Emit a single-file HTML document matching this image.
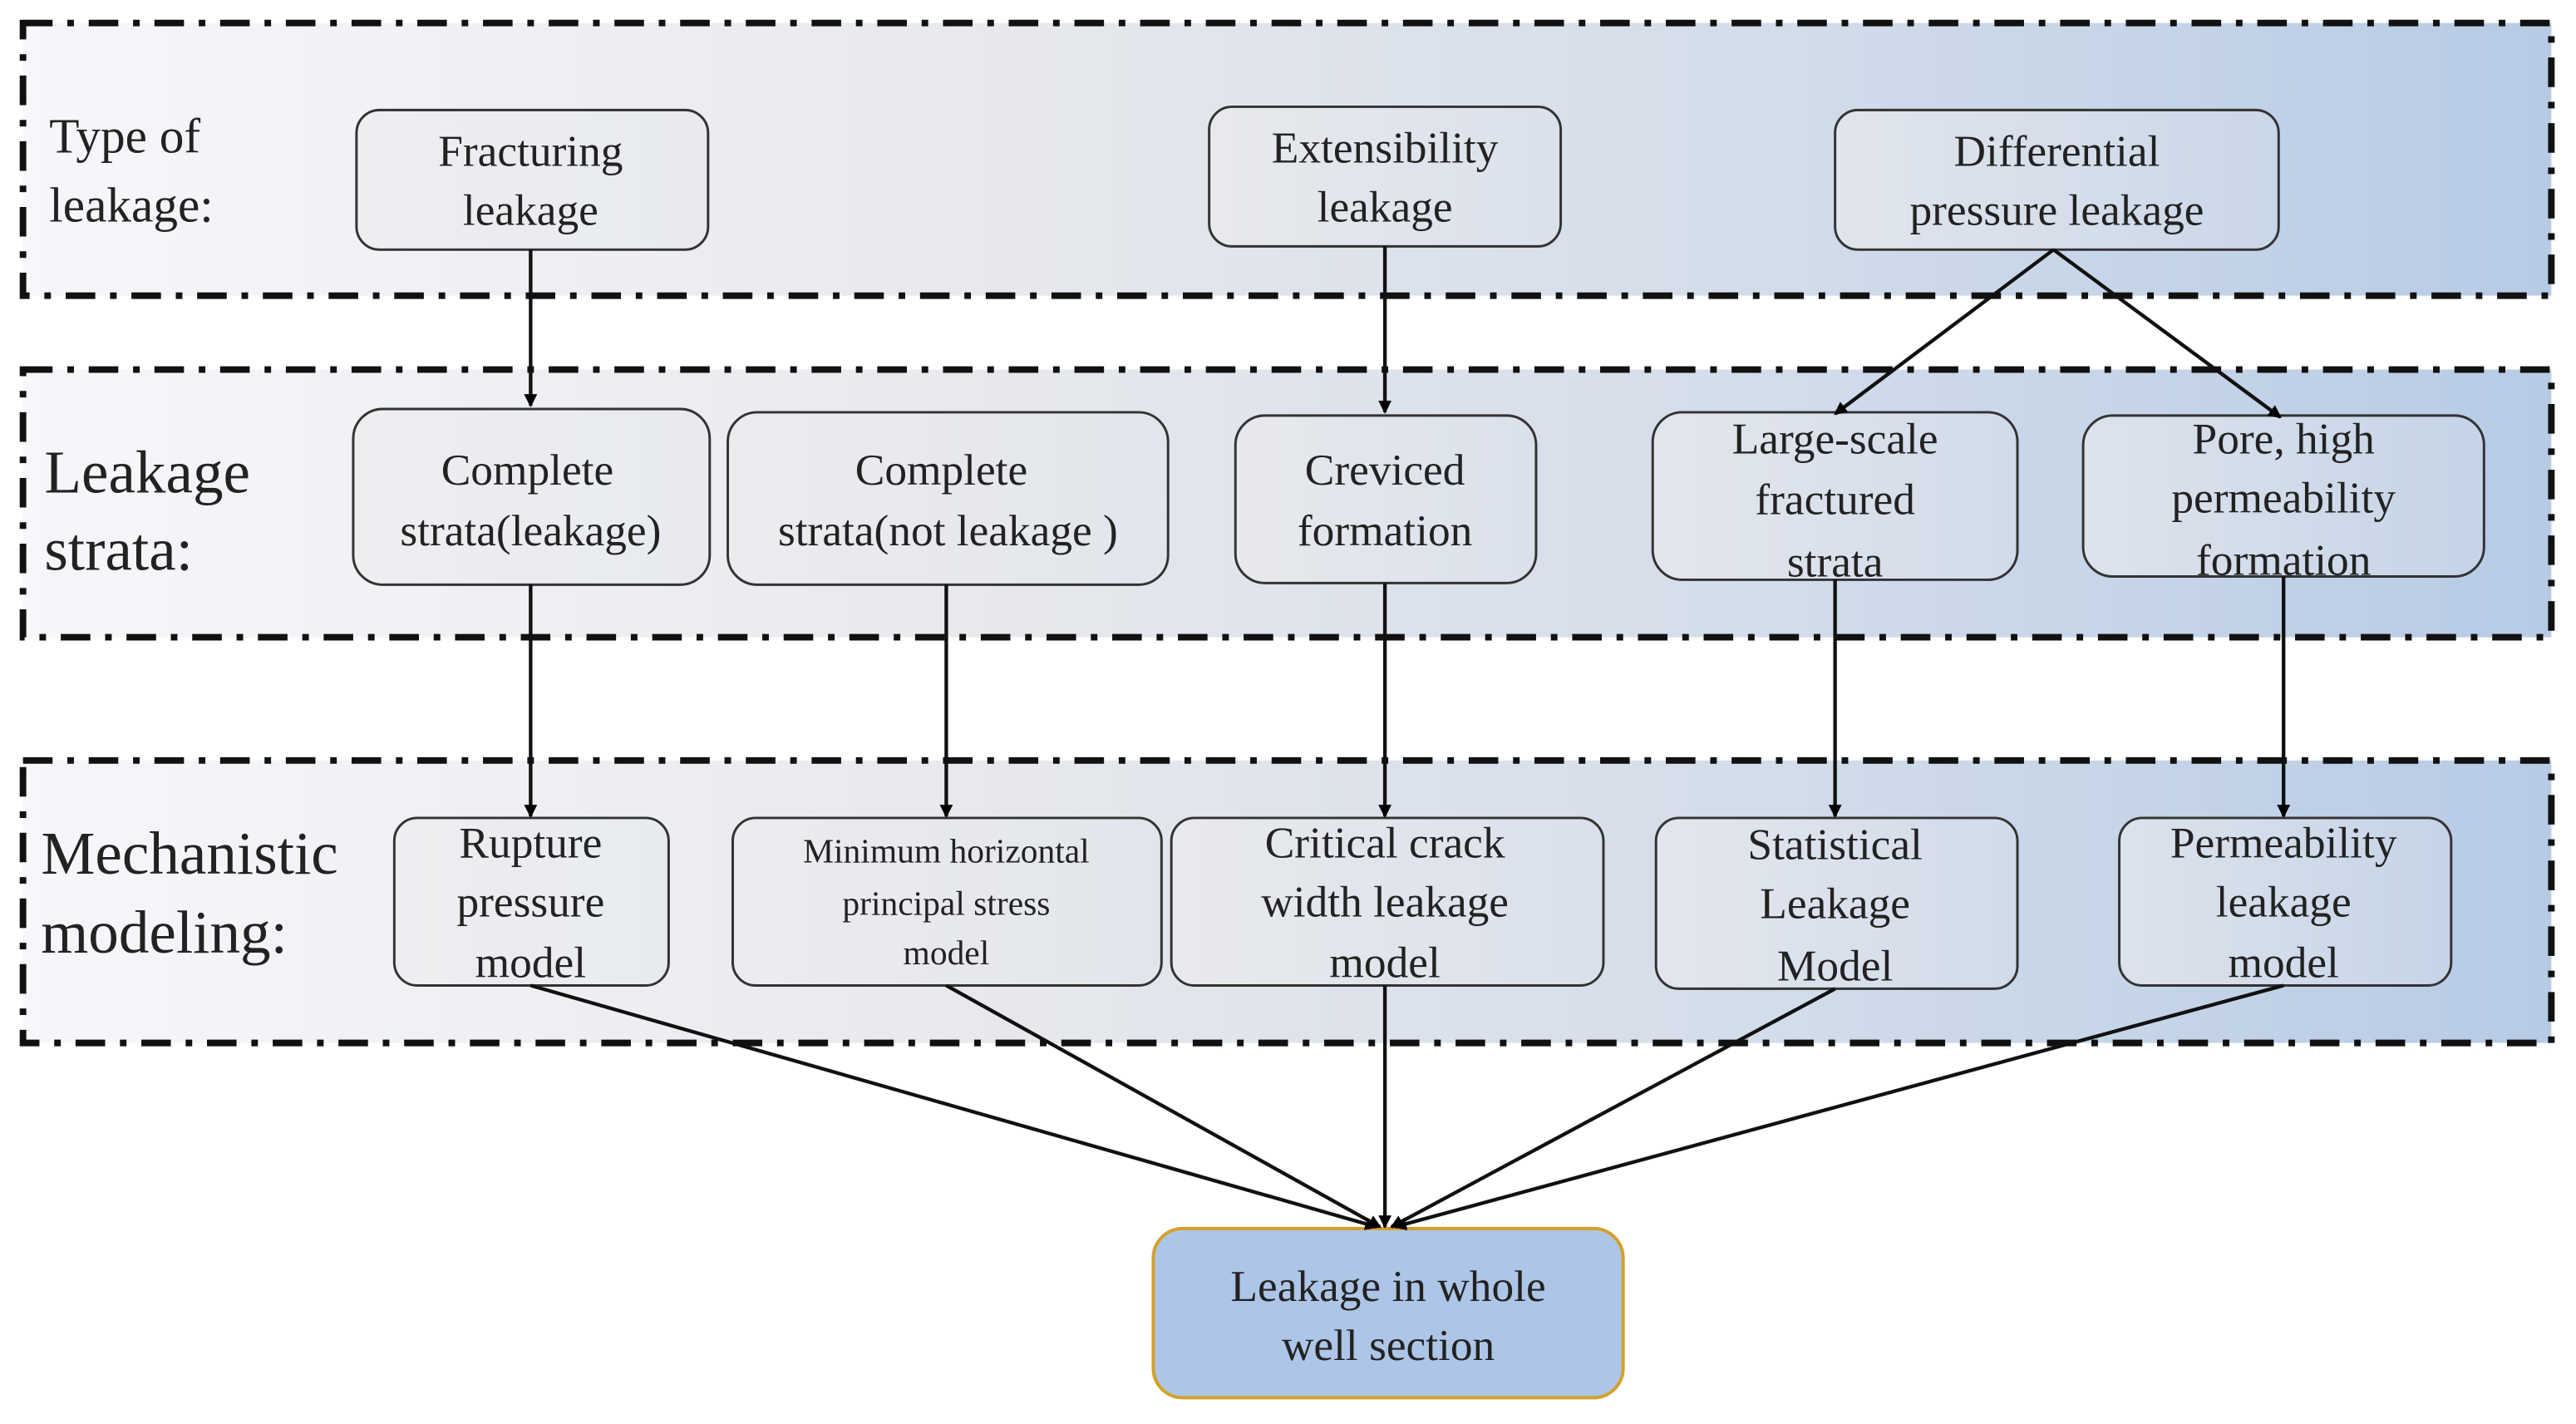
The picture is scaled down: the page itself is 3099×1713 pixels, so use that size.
<!DOCTYPE html>
<html><head><meta charset="utf-8"><style>
html,body{margin:0;padding:0;background:#fff;}
svg{display:block;}
svg text{font-family:"Liberation Serif","Times New Roman","DejaVu Serif",serif;fill:#222;}
</style></head><body>
<svg width="3099" height="1713" viewBox="0 0 1568 867" preserveAspectRatio="none" xmlns="http://www.w3.org/2000/svg" font-family="Liberation Serif, DejaVu Serif, serif">
<defs>
<linearGradient id="g" x1="0" x2="1" y1="0" y2="0">
<stop offset="0" stop-color="#f6f7fa"/>
<stop offset="0.4" stop-color="#e6e8ec"/>
<stop offset="0.7" stop-color="#d2dcea"/>
<stop offset="1" stop-color="#b7cbe5"/>
</linearGradient>
<linearGradient id="bx" x1="0" x2="1" y1="0" y2="0">
<stop offset="0" stop-color="#ececee" stop-opacity="0.6"/>
<stop offset="1" stop-color="#e0e4ec" stop-opacity="0.3"/>
</linearGradient>
<marker id="a" markerWidth="8" markerHeight="8" refX="7" refY="4" orient="auto" markerUnits="userSpaceOnUse">
<path d="M0,0 L8,4 L0,8 z" fill="#000"/>
</marker>
</defs>
<g stroke="#111" stroke-width="4" stroke-dasharray="18 9 4 9">
<rect x="14" y="14" width="1539" height="166" fill="url(#g)"/>
<rect x="14" y="225" width="1539" height="163" fill="url(#g)"/>
<rect x="14" y="463" width="1539" height="172" fill="url(#g)"/>
</g>
<g font-size="30">
<text x="30" y="93">Type  of</text>
<text x="30" y="135">leakage:</text>
</g>
<g font-size="37">
<text x="27" y="300">Leakage</text>
<text x="27" y="347">strata:</text>
<text x="25" y="532">Mechanistic</text>
<text x="25" y="580">modeling:</text>
</g>
<g fill="url(#bx)" stroke="#333" stroke-width="1.5">
<rect x="217" y="67" width="214" height="85" rx="14"/>
<rect x="736" y="65" width="214" height="85" rx="14"/>
<rect x="1117" y="67" width="270" height="85" rx="14"/>
<rect x="215" y="249" width="217" height="107" rx="18"/>
<rect x="443" y="251" width="268" height="105" rx="18"/>
<rect x="752" y="253" width="183" height="102" rx="18"/>
<rect x="1006" y="251" width="222" height="102" rx="18"/>
<rect x="1268" y="253" width="244" height="98" rx="18"/>
<rect x="240" y="498" width="167" height="102" rx="14"/>
<rect x="446" y="498" width="261" height="102" rx="14"/>
<rect x="713" y="498" width="263" height="102" rx="14"/>
<rect x="1008" y="498" width="220" height="104" rx="14"/>
<rect x="1290" y="498" width="202" height="102" rx="14"/>
</g>
<rect x="702" y="748" width="286" height="103" rx="18" fill="#adc6e7" stroke="#d4a02a" stroke-width="2"/>
<g font-size="27" text-anchor="middle">
<text x="323" y="101">Fracturing</text><text x="323" y="137">leakage</text>
<text x="843" y="99">Extensibility</text><text x="843" y="135">leakage</text>
<text x="1252" y="101">Differential</text><text x="1252" y="137">pressure leakage</text>
<text x="321" y="295">Complete</text><text x="323" y="332">strata(leakage)</text>
<text x="573" y="295">Complete</text><text x="577" y="332">strata(not leakage )</text>
<text x="843" y="295">Creviced</text><text x="843" y="332">formation</text>
<text x="1117" y="276">Large-scale</text><text x="1117" y="313">fractured</text><text x="1117" y="351">strata</text>
<text x="1390" y="276">Pore, high</text><text x="1390" y="312">permeability</text><text x="1390" y="350">formation</text>
<text x="323" y="522">Rupture</text><text x="323" y="558">pressure</text><text x="323" y="595">model</text>
<text x="843" y="522">Critical  crack</text><text x="843" y="558">width leakage</text><text x="843" y="595">model</text>
<text x="1117" y="523">Statistical</text><text x="1117" y="559">Leakage</text><text x="1117" y="597">Model</text>
<text x="1390" y="522">Permeability</text><text x="1390" y="558">leakage</text><text x="1390" y="595">model</text>
<text x="845" y="792">Leakage  in whole</text><text x="845" y="828">well  section</text>
</g>
<g font-size="21" text-anchor="middle">
<text x="576" y="525">Minimum  horizontal</text>
<text x="576" y="557">principal  stress</text>
<text x="576" y="587">model</text>
</g>
<g stroke="#111" stroke-width="2.2" marker-end="url(#a)" fill="none">
<line x1="323" y1="152" x2="323" y2="247"/>
<line x1="843" y1="150" x2="843" y2="251"/>
<line x1="1250" y1="152" x2="1117" y2="252"/>
<line x1="1250" y1="152" x2="1388" y2="254"/>
<line x1="323" y1="356" x2="323" y2="497"/>
<line x1="576" y1="356" x2="576" y2="497"/>
<line x1="843" y1="355" x2="843" y2="497"/>
<line x1="1117" y1="353" x2="1117" y2="497"/>
<line x1="1390" y1="351" x2="1390" y2="497"/>
<line x1="323" y1="600" x2="838" y2="747"/>
<line x1="576" y1="600" x2="840" y2="747"/>
<line x1="843" y1="600" x2="843" y2="747"/>
<line x1="1117" y1="602" x2="847" y2="747"/>
<line x1="1390" y1="600" x2="849" y2="747"/>
</g>
</svg>
</body></html>
